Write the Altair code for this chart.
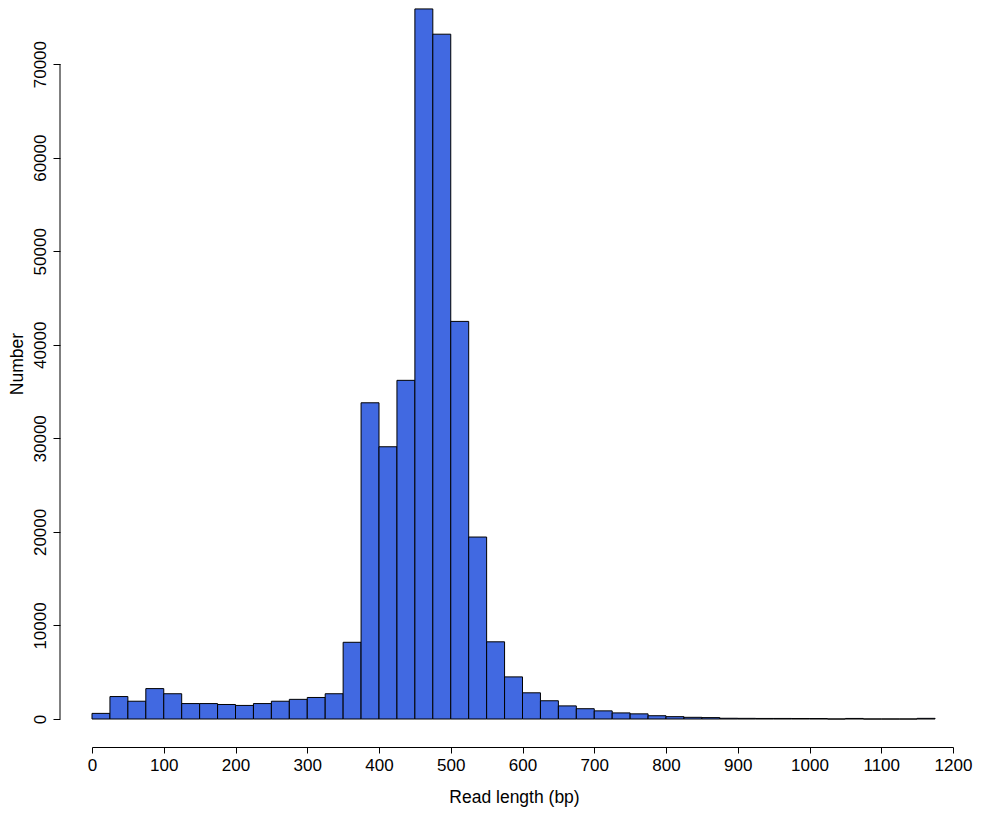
import altair as alt
import pandas as pd

bin_start = list(range(0, 1175, 25))
counts = [600, 2400, 1900, 3250, 2700, 1650, 1650, 1550, 1450, 1650,
          1900, 2100, 2300, 2700, 8200, 33800, 29100, 36200, 75900, 73200,
          42500, 19450, 8250, 4500, 2800, 1950, 1400, 1100, 870, 650,
          550, 350, 250, 180, 150, 80, 70, 60, 60, 55,
          50, 0, 60, 0, 0, 0, 70]
bin_width = 25
x_ticks = list(range(0, 1201, 100))
y_ticks = list(range(0, 70001, 10000))

df = pd.DataFrame({
    "start": bin_start,
    "end": [s + bin_width for s in bin_start],
    "count": counts,
})

FONT = "Liberation Sans"
LSIZE = 17
TSIZE = 17.5

bars = alt.Chart(df).mark_rect(
    color="#4169E1", stroke="black", strokeWidth=1
).encode(
    x=alt.X("start:Q",
            scale=alt.Scale(domain=[0, 1200], nice=False, zero=False),
            axis=alt.Axis(values=x_ticks, title="Read length (bp)", format="d",
                          offset=28, tickSize=6, labelPadding=4,
                          domainColor="black", tickColor="black",
                          labelColor="black", titleColor="black",
                          labelFontSize=LSIZE, titleFontSize=TSIZE,
                          labelFont=FONT, titleFont=FONT,
                          titleFontWeight="normal", titlePadding=15,
                          titleX=422, titleAlign="center",
                          grid=False, labelFlush=False)),
    x2="end:Q",
    y=alt.Y("count:Q",
            scale=alt.Scale(domain=[0, 76000], nice=False),
            axis=alt.Axis(values=y_ticks, title="Number", format="d",
                          offset=32, tickSize=7, domain=False,
                          tickColor="black", labelColor="black",
                          titleColor="black",
                          labelAngle=270, labelAlign="center",
                          labelBaseline="bottom", labelPadding=4,
                          labelFontSize=LSIZE, titleFontSize=TSIZE,
                          labelFont=FONT, titleFont=FONT,
                          titleFontWeight="normal", titlePadding=5,
                          grid=False)),
    y2=alt.datum(0),
)

axis_line = alt.Chart(pd.DataFrame({"a": [0]})).mark_rule(
    color="black", strokeWidth=1
).encode(
    x=alt.value(-32),
    y=alt.datum(0),
    y2=alt.datum(70000),
)

chart = alt.layer(bars, axis_line).properties(
    width=861,
    height=711,
    background="white",
    autosize=alt.AutoSizeParams(type="none"),
    padding={"left": 84, "top": 0, "right": 21, "bottom": 90},
).configure_view(stroke=None)

chart.save("out.html", embed_options={"renderer": "svg", "actions": False})
